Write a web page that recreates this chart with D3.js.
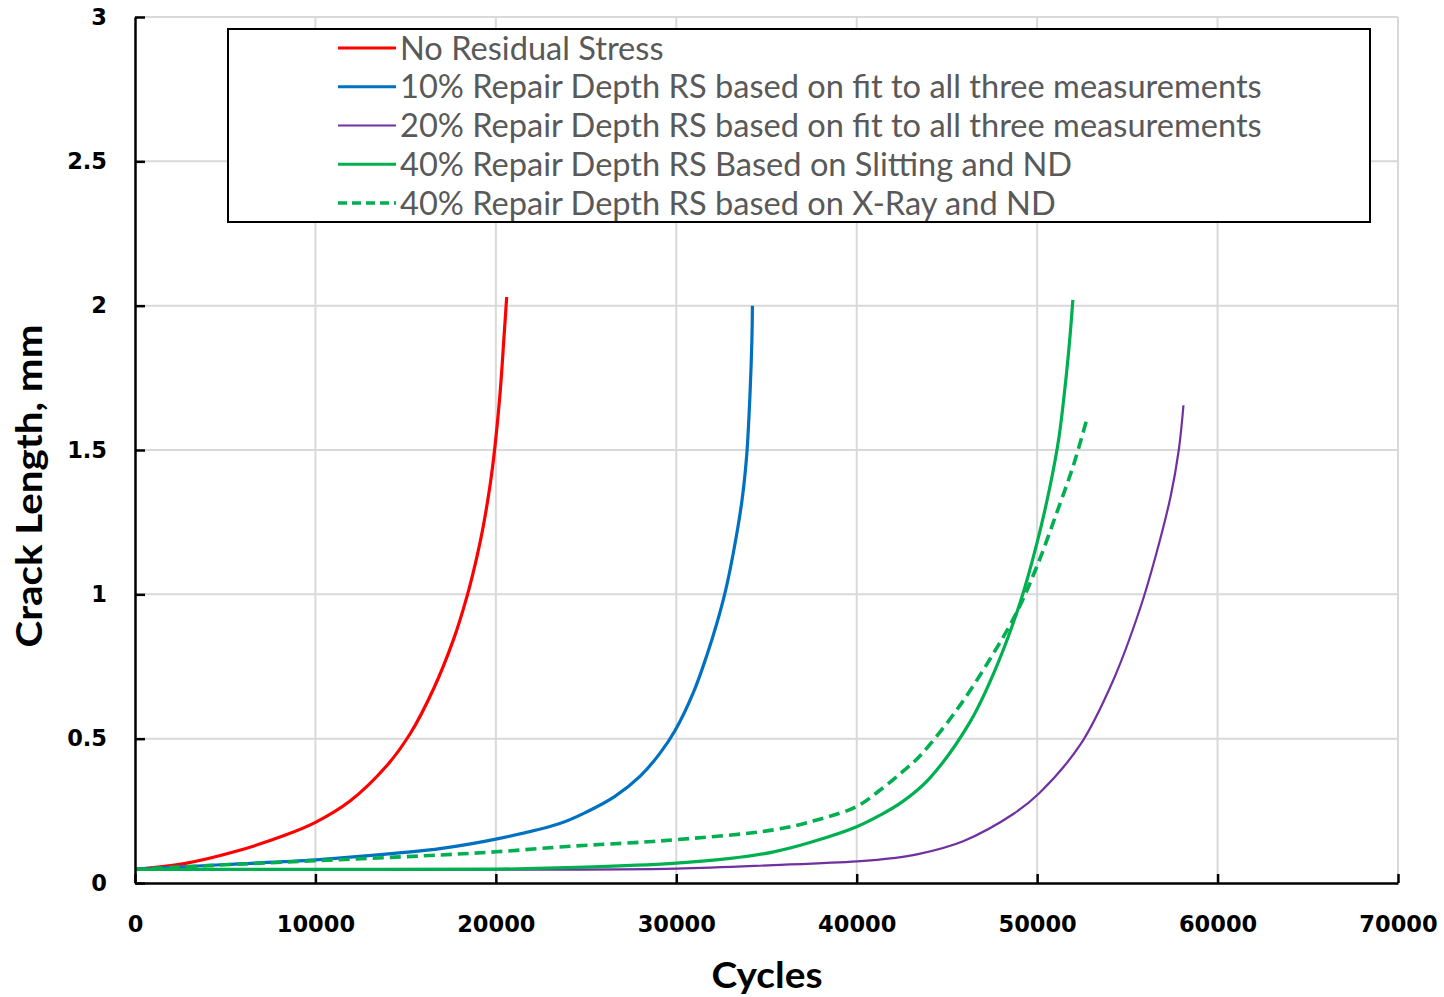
<!DOCTYPE html>
<html lang="en">
<head>
<meta charset="UTF-8">
<title>Crack Length vs Cycles</title>
<script src="https://cdn.jsdelivr.net/npm/d3@7"></script>
<style>
  body { margin: 0; background: #fff; }
</style>
</head>
<body>
<script>

// ---- data ----
var noRsCycles = [0, 2800, 5500, 8300, 10000, 11900, 13950, 15250, 16550, 17650, 18400, 18950, 19300, 19700, 19950, 20250, 20450, 20600];
var noRsCrack  = [0.047, 0.068, 0.108, 0.165, 0.21, 0.283, 0.406, 0.517, 0.673, 0.843, 0.993, 1.13, 1.235, 1.387, 1.512, 1.71, 1.89, 2.03];

var rs10Cycles = [0, 5000, 10000, 14800, 17000, 20000, 23500, 25000, 26600, 28000, 29100, 29950, 30950, 31700, 32250, 32700, 33150, 33630, 33900, 34090, 34190, 34220];
var rs10Crack  = [0.047, 0.064, 0.080, 0.105, 0.120, 0.152, 0.205, 0.245, 0.300, 0.37, 0.45, 0.53, 0.66, 0.79, 0.9, 1.005, 1.14, 1.32, 1.48, 1.70, 1.88, 2.0];

var rs20Cycles = [0, 10000, 20000, 30000, 35400, 40000, 42000, 43400, 45900, 48700, 50100, 52400, 54200, 55700, 56600, 57400, 57850, 58110];
var rs20Crack  = [0.046, 0.046, 0.046, 0.050, 0.062, 0.075, 0.086, 0.1, 0.145, 0.24, 0.31, 0.48, 0.70, 0.95, 1.14, 1.34, 1.5, 1.655];

var rs40SlitCycles = [0, 10000, 20000, 25000, 29800, 33000, 35400, 37500, 40000, 41300, 42500, 44000, 46300, 47750, 49050, 50000, 50700, 51200, 51550, 51830, 51980];
var rs40SlitCrack  = [0.047, 0.047, 0.048, 0.055, 0.068, 0.085, 0.108, 0.142, 0.195, 0.235, 0.28, 0.36, 0.56, 0.75, 0.97, 1.18, 1.37, 1.54, 1.72, 1.9, 2.02];

var rs40XrayCycles = [0, 5000, 10000, 16900, 20000, 24300, 27700, 30000, 35400, 38000, 40000, 41300, 42500, 43500, 45550, 47400, 48870, 50000, 51100, 52000, 52750];
var rs40XrayCrack  = [0.047, 0.063, 0.077, 0.097, 0.108, 0.128, 0.140, 0.150, 0.184, 0.222, 0.265, 0.322, 0.383, 0.44, 0.6, 0.777, 0.938, 1.099, 1.285, 1.445, 1.606];

var seriesNames = [
    "No Residual Stress",
    "10% Repair Depth RS based on fit to all three measurements",
    "20% Repair Depth RS based on fit to all three measurements",
    "40% Repair Depth RS Based on Slitting and ND",
    "40% Repair Depth RS based on X-Ray and ND"
];

var xTicks = [0, 10000, 20000, 30000, 40000, 50000, 60000, 70000];
var yTicks = [0, 0.5, 1, 1.5, 2, 2.5, 3];

drawChart();

function drawChart(){

    // ---- styles ----
    var styles = [
        { color: "#ff0000", width: 3.2, dash: null },
        { color: "#0070c0", width: 3.2, dash: null },
        { color: "#7030a0", width: 2.2, dash: null },
        { color: "#00b050", width: 3.2, dash: null },
        { color: "#00b050", width: 3.6, dash: "11,6" }
    ];

    var seriesData = [
        d3.zip(noRsCycles, noRsCrack),
        d3.zip(rs10Cycles, rs10Crack),
        d3.zip(rs20Cycles, rs20Crack),
        d3.zip(rs40SlitCycles, rs40SlitCrack),
        d3.zip(rs40XrayCycles, rs40XrayCrack)
    ];

    var width = 1444, height = 997;
    var mLeft = 135, mRight = 1398, mTop = 17, mBottom = 883;

    var svg = d3.select("body").append("svg")
        .attr("width", width)
        .attr("height", height);

    var x = d3.scaleLinear().domain([0, 70000]).range([mLeft, mRight]);
    var y = d3.scaleLinear().domain([0, 3]).range([mBottom, mTop]);

    // grid
    var gGrid = svg.append("g").attr("stroke", "#d9d9d9").attr("stroke-width", 2);
    gGrid.selectAll(".vg").data(xTicks.slice(1)).enter().append("line")
        .attr("x1", function(d){ return x(d); }).attr("x2", function(d){ return x(d); })
        .attr("y1", mTop).attr("y2", mBottom);
    gGrid.selectAll(".hg").data(yTicks.slice(1)).enter().append("line")
        .attr("x1", mLeft).attr("x2", mRight)
        .attr("y1", function(d){ return y(d); }).attr("y2", function(d){ return y(d); });

    // curves
    var line = d3.line()
        .x(function(d){ return x(d[0]); })
        .y(function(d){ return y(d[1]); })
        .curve(d3.curveCatmullRom.alpha(0.5));

    var gLines = svg.append("g");
    seriesData.forEach(function(pts, i){
        gLines.append("path")
            .datum(pts)
            .attr("d", line)
            .attr("fill", "none")
            .attr("stroke", styles[i].color)
            .attr("stroke-width", styles[i].width)
            .attr("stroke-dasharray", styles[i].dash)
            .attr("stroke-linejoin", "round");
    });

    // axes
    var xAxis = d3.axisBottom(x)
        .tickValues(xTicks)
        .tickFormat(d3.format("d"))
        .tickSizeInner(-9)
        .tickSizeOuter(0)
        .tickPadding(33);
    var yAxis = d3.axisLeft(y)
        .tickValues(yTicks)
        .tickFormat(function(d){ return String(d); })
        .tickSizeInner(-10)
        .tickSizeOuter(0)
        .tickPadding(28);

    var gx = svg.append("g").attr("transform", "translate(0," + mBottom + ")").call(xAxis);
    var gy = svg.append("g").attr("transform", "translate(" + mLeft + ",0)").call(yAxis);

    [gx, gy].forEach(function(g){
        g.select(".domain").attr("stroke", "#000").attr("stroke-width", 2.5);
        g.selectAll(".tick line").attr("stroke", "#000").attr("stroke-width", 2.5);
        g.selectAll(".tick text")
            .attr("fill", "#000")
            .style("font-family", "'DejaVu Sans', sans-serif")
            .style("font-weight", "bold")
            .style("font-size", "22.5px");
    });

    // axis titles
    svg.append("text")
        .attr("x", 767).attr("y", 988)
        .attr("text-anchor", "middle")
        .attr("textLength", 111)
        .attr("lengthAdjust", "spacingAndGlyphs")
        .style("font-family", "Lato, sans-serif")
        .style("font-weight", "bold")
        .style("font-size", "36px")
        .text("Cycles");

    svg.append("text")
        .attr("transform", "translate(42,486) rotate(-90)")
        .attr("text-anchor", "middle")
        .attr("textLength", 323)
        .attr("lengthAdjust", "spacingAndGlyphs")
        .style("font-family", "Lato, sans-serif")
        .style("font-weight", "bold")
        .style("font-size", "36px")
        .text("Crack Length, mm");

    // legend
    var gLeg = svg.append("g");
    gLeg.append("rect")
        .attr("x", 228).attr("y", 29)
        .attr("width", 1142).attr("height", 193)
        .attr("fill", "#fff")
        .attr("stroke", "#000")
        .attr("stroke-width", 2);

    var rowY = d3.scaleLinear().domain([0, 4]).range([48, 203]);
    var legRows = gLeg.selectAll(".leg").data(seriesNames).enter().append("g")
        .attr("transform", function(d, i){ return "translate(0," + rowY(i) + ")"; });

    legRows.append("line")
        .attr("x1", 338).attr("x2", 396)
        .attr("stroke", function(d, i){ return styles[i].color; })
        .attr("stroke-width", function(d, i){ return styles[i].width; })
        .attr("stroke-dasharray", function(d, i){ return styles[i].dash ? "9,5" : null; });

    var legText = legRows.append("text")
        .attr("x", 400).attr("dy", "0.36em")
        .attr("fill", "#595959")
        .style("font-family", "Lato, sans-serif")
        .style("font-size", "28px")
        .text(function(d){ return d; });

    // fit legend text so the longest entry spans like the reference
    var longest = legText.nodes()[1].getComputedTextLength();
    legText.style("font-size", (28 * 862 / longest) + "px");
}

</script>
</body>
</html>
